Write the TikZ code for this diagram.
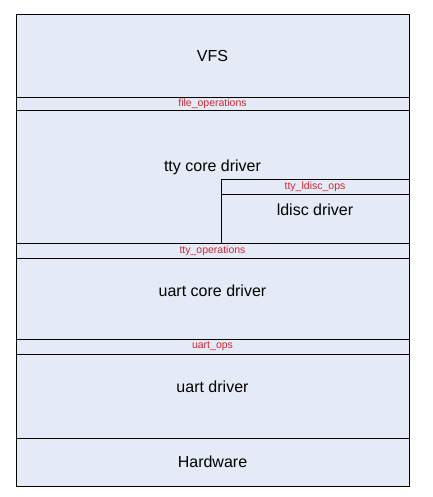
\documentclass[tikz,border=0pt]{standalone}
\usepackage{fontspec}
\setmainfont{Liberation Sans}
\usepackage{xcolor}
\usetikzlibrary{positioning}
\definecolor{layerblue}{RGB}{229,235,246}
\definecolor{opsred}{RGB}{204,40,52}

\begin{document}
\begin{tikzpicture}[
    x=1pt, y=1pt,
    node distance=0pt,
    layer/.style={rectangle, draw, fill=layerblue, line width=0.9pt, minimum width=393pt, inner sep=0pt, outer sep=0pt, font=\fontsize{16}{18}\selectfont},
    ops/.style={layer, minimum height=15pt, text=opsred, font=\fontsize{10.5}{12}\selectfont},
    caption/.style={font=\fontsize{16}{18}\selectfont}
]
\useasboundingbox (0,0) rectangle (432,-497);
% layer stack, top to bottom
\node[layer, minimum height=83pt, anchor=north west] (vfs) at (16,-14) {VFS};
\node[ops, minimum height=13pt, below=of vfs] (fileops) {file\_operations};
\node[layer, minimum height=133pt, below=of fileops] (ttycore) {};
\node[ops, below=of ttycore] (ttyops) {tty\_operations};
\node[layer, minimum height=81pt, below=of ttyops] (uartcore) {};
\node[ops, below=of uartcore] (uartops) {uart\_ops};
\node[layer, minimum height=84pt, below=of uartops] (uartdrv) {};
\node[layer, minimum height=48pt, below=of uartdrv] (hw) {Hardware};
% line discipline inside the tty core
\node[ops, minimum width=188pt, anchor=north east] (ldiscops) at ([yshift=-69pt]ttycore.north east) {tty\_ldisc\_ops};
\node[layer, minimum width=188pt, minimum height=49pt, below=of ldiscops] (ldisc) {};
% captions sit a little above the middle
\node[caption] (ttycorename) at ([yshift=9.5pt]ttycore.center) {tty core driver};
\node[caption] (ldiscname) at ([yshift=8.5pt]ldisc.center) {ldisc driver};
\node[caption] (uartcorename) at ([yshift=7.5pt]uartcore.center) {uart core driver};
\node[caption] (uartdrvname) at ([yshift=9pt]uartdrv.center) {uart driver};
\end{tikzpicture}
\end{document}
